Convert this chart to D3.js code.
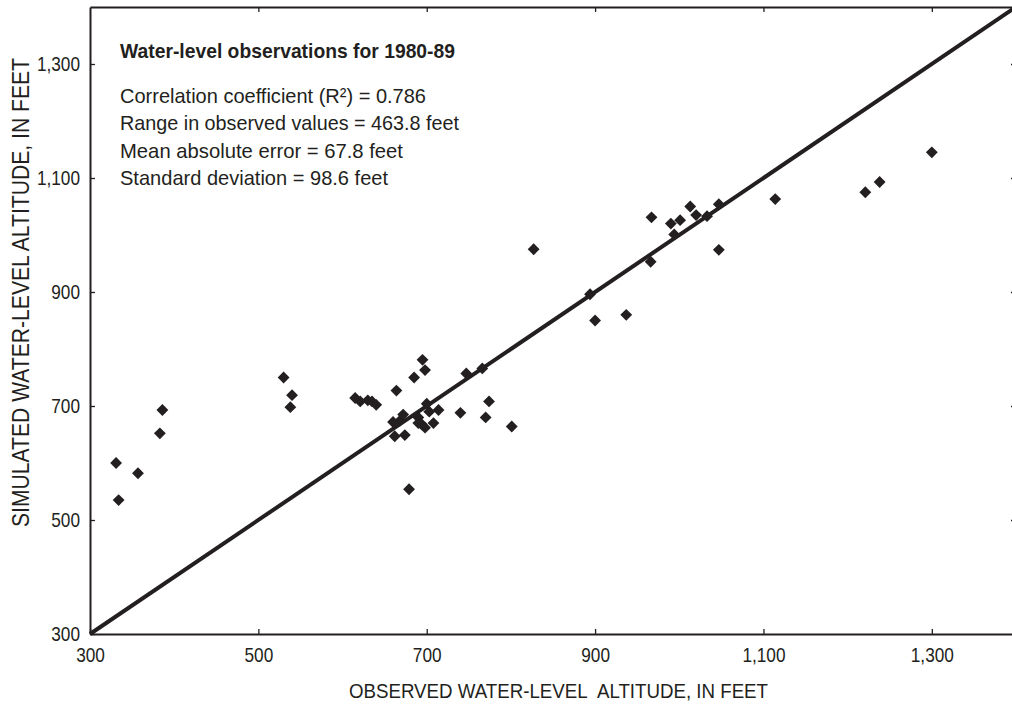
<!DOCTYPE html>
<html><head><meta charset="utf-8">
<script src="https://cdn.jsdelivr.net/npm/d3@7"></script>
<style>
body{margin:0;background:#fff;}
svg{display:block;}
text{font-family:"Liberation Sans",Arial,sans-serif;fill:#231f20;}
</style></head>
<body>
<svg id="c" width="1012" height="707"></svg>
<script>
const observed = [331,334,357,386,383,530,540,538,615,621,630,635,640,695,698,685,664,747,766,774,740,770,801,679,714,
  660,668,672,662,674,690,694,698,700,703,708,690,
  827,967,990,1001,1013,1020,1033,1047,994,966,1047,894,900,937,1114,1221,1238,1300];
const simulated = [600,535,582,693,652,750,719,698,714,708,710,708,702,781,763,750,727,757,766,708,688,680,664,554,693,
  672,674,685,647,649,680,668,662,704,690,670,670,
  975,1031,1020,1026,1050,1035,1033,1054,1001,953,974,896,850,860,1063,1075,1093,1145];
const xTicks = [300,500,700,900,1100,1300];
const yTicks = [300,500,700,900,1100,1300];
const domain = [300,1400];
const title = "Water-level observations for 1980-89";
const stats = ["Correlation coefficient (R\u00B2) = 0.786","Range in observed values = 463.8 feet","Mean absolute error = 67.8 feet","Standard deviation = 98.6 feet"];
const xLabel = "OBSERVED WATER-LEVEL\u00A0 ALTITUDE, IN FEET";
const yLabel = "SIMULATED WATER-LEVEL ALTITUDE, IN FEET";

// layout (condensed-type emulation: target rendered widths)
const titleW = 335, statsW = [306, 339, 283, 268], xLabelW = 419, yLabelW = 469, tickSquash = 0.82;

const ink = "#231f20";
const svg = d3.select("#c");
const L = 90, R = 1016, T = 7, B = 634;
const x = d3.scaleLinear().domain(domain).range([L,R]);
const y = d3.scaleLinear().domain(domain).range([B,T]);
const fmt = d3.format(",");

function squash(sel, k) {
  sel.each(function(){
    const w = this.getComputedTextLength();
    d3.select(this).attr("textLength", w*k).attr("lengthAdjust", "spacingAndGlyphs");
  });
}
function fitTo(sel, w) {
  sel.attr("textLength", w).attr("lengthAdjust", "spacingAndGlyphs");
}

const g = svg.append("g");
const ax = (gen, tr, labels) => {
  const a = g.append("g").attr("transform", tr).call(gen);
  a.select(".domain").attr("stroke", ink).attr("stroke-width", 2);
  a.selectAll(".tick line").attr("stroke", ink).attr("stroke-width", 1.3);
  const t = a.selectAll("text").attr("font-size", 21).attr("fill", ink)
   .attr("font-family", '"Liberation Sans",Arial,sans-serif');
  if (!labels) t.remove(); else squash(t, tickSquash);
  return a;
};
ax(d3.axisBottom(x).tickValues(xTicks).tickFormat(fmt).tickSizeInner(-5).tickSizeOuter(0).tickPadding(13), `translate(0,${B})`, true);
ax(d3.axisTop(x).tickValues(xTicks.slice(1)).tickSizeInner(-5).tickSizeOuter(0), `translate(0,${T})`, false);
ax(d3.axisLeft(y).tickValues(yTicks).tickFormat(fmt).tickSizeInner(-5).tickSizeOuter(0).tickPadding(10), `translate(${L},0)`, true);
ax(d3.axisRight(y).tickValues(yTicks.slice(1)).tickSizeInner(-5).tickSizeOuter(0), `translate(${R},0)`, false);

// 1:1 line
g.append("line").attr("x1", x(domain[0])).attr("y1", y(domain[0]))
 .attr("x2", x(domain[1])).attr("y2", y(domain[1]))
 .attr("stroke", ink).attr("stroke-width", 4);

// points
const sym = d3.symbol().type(d3.symbolSquare).size(70);
g.append("g").selectAll("path").data(observed.map((o,i)=>[o, simulated[i]])).join("path")
 .attr("d", sym).attr("fill", ink)
 .attr("transform", d => `translate(${x(d[0])},${y(d[1])}) rotate(45)`);

// text block
fitTo(svg.append("text").attr("x", 120).attr("y", 58).attr("font-size", 21).attr("font-weight", "bold").text(title), titleW);
svg.append("g").selectAll("text").data(stats).join("text")
 .attr("x", 120).attr("y", (d,i) => 103 + i*27.3).attr("font-size", 21).text(d => d)
 .attr("textLength", (d,i) => statsW[i]).attr("lengthAdjust", "spacingAndGlyphs");

// axis titles
fitTo(svg.append("text").attr("x", 558.5).attr("y", 698).attr("text-anchor", "middle").attr("font-size", 21).text(xLabel), xLabelW);
fitTo(svg.append("text").attr("transform", "translate(29,292.5) rotate(-90)").attr("text-anchor", "middle").attr("font-size", 23).text(yLabel), yLabelW);
</script>
</body></html>
